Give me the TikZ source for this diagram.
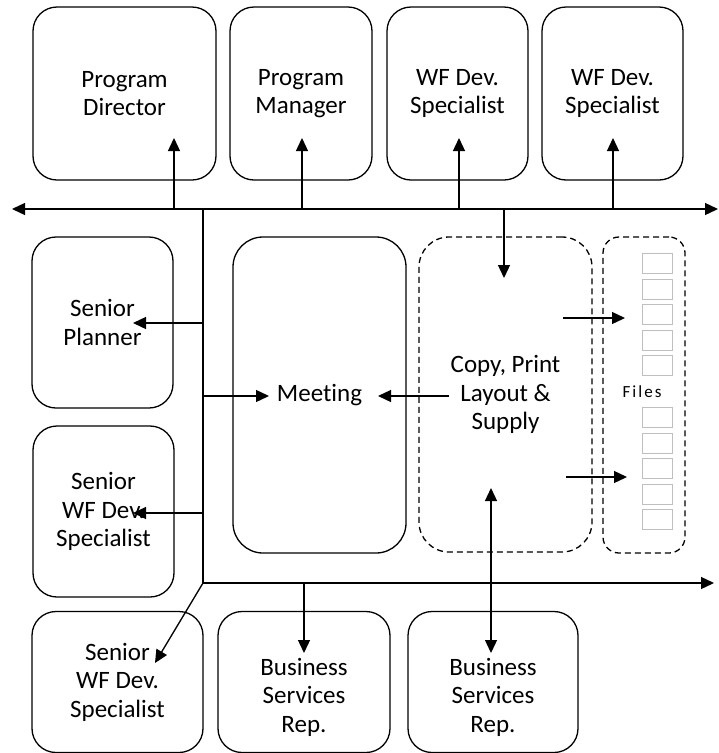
\documentclass[tikz,border=0pt]{standalone}
\usepackage{fontspec}
\setmainfont{Carlito}[Ligatures={NoCommon}]
\usetikzlibrary{arrows.meta}
\tikzset{
  box/.style={draw, line width=1.3pt, rounded corners=24pt, inner sep=0pt, outer sep=0pt,
    align=center, font=\fontsize{25}{28.5}\selectfont},
  dbox/.style={box, dashed, dash pattern=on 6pt off 4pt},
  lbl/.style={align=center, font=\fontsize{25}{28.5}\selectfont, inner sep=0pt},
  conn/.style={line width=1.3pt, -{Triangle[length=13pt,width=12pt]}},
  dconn/.style={line width=1.3pt, {Triangle[length=13pt,width=12pt]}-{Triangle[length=13pt,width=12pt]}},
  bus/.style={line width=1.5pt},
  filebox/.style={draw=black!25, line width=1.2pt, minimum width=30pt, minimum height=20pt,
    inner sep=0pt, anchor=north west}
}
\begin{document}
\begin{tikzpicture}[x=1pt,y=-1pt]
\useasboundingbox (0,0) rectangle (719,753);

% top row
\node[box, minimum width=183pt, minimum height=173pt] (pd)  at (124.5,93.5) {Program\\Director};
\node[box, minimum width=142pt, minimum height=173pt] (pm)  at (301,93.5)   {Program\\Manager};
\node[box, minimum width=141pt, minimum height=173pt] (wf1) at (457.5,93.5) {WF Dev.\\Specialist};
\node[box, minimum width=141pt, minimum height=173pt] (wf2) at (612.5,93.5) {WF Dev.\\Specialist};

% left column
\node[box, minimum width=141pt, minimum height=171pt] (sp)   at (102.5,322.5) {Senior\\Planner};
\node[box, minimum width=141pt, minimum height=171pt] (swf1) at (103.5,511.5) {Senior\\WF Dev.\\Specialist};

% middle
\node[box, rounded corners=30pt, minimum width=173pt, minimum height=316pt] (mt) at (319.5,395) {Meeting};
\node[dbox, rounded corners=30pt, minimum width=173pt, minimum height=315pt] (cp) at (505.5,394.5) {Copy, Print\\Layout \&\\Supply};
\node[dbox, rounded corners=16pt, minimum width=82pt, minimum height=316pt] (fl) at (644,395) {};

% file slots
\foreach \i/\y in {1/253,2/278.5,3/304,4/329.5,5/355,6/407,7/432.5,8/458,9/483.5,10/509}
  \node[filebox] (f\i) at (642,\y) {};
\node[inner sep=0pt, font=\fontsize{17}{20}\selectfont\addfontfeatures{LetterSpace=12}] (ft) at (642,392) {Files};

% bottom row
\node[box, minimum width=171pt, minimum height=141pt] (swf2) at (117.5,682) {Senior\\WF Dev.\\Specialist};
\node[box, minimum width=172pt, minimum height=141pt] (bs1) at (304,682) {};
\node[lbl] (bs1t) at (304,697) {Business\\Services\\Rep.};
\node[box, minimum width=170pt, minimum height=141pt] (bs2) at (493,682) {};
\node[lbl] (bs2t) at (493,697) {Business\\Services\\Rep.};

% bus lines
\coordinate (busL) at (12,209);
\coordinate (busR) at (718,209);
\coordinate (junc) at (203,209);
\coordinate (corner) at (203,583);
\coordinate (busB) at (714,583);
\draw[conn] (junc) -- (busL);
\draw[conn] (junc) -- (busR);
\draw[bus] (junc) -- (corner);
\draw[conn] (corner) -- (busB);

% arrows up into the top row
\coordinate (pdin) at (174,138);
\coordinate (pmin) at (302,138);
\coordinate (wf1in) at (459,138);
\coordinate (wf2in) at (613,138);
\draw[conn] (pdin |- busL) -- (pdin);
\draw[conn] (pmin |- busL) -- (pmin);
\draw[conn] (wf1in |- busL) -- (wf1in);
\draw[conn] (wf2in |- busL) -- (wf2in);

% arrow down into copy area
\coordinate (cpin) at (504,278);
\draw[conn] (cpin |- busL) -- (cpin);

% left column arrows
\coordinate (spin) at (133,323);
\coordinate (swf1in) at (133,513);
\draw[conn] (junc |- spin) -- (spin);
\draw[conn] (junc |- swf1in) -- (swf1in);

% meeting arrows
\coordinate (mtl) at (269,396);
\coordinate (mtr) at (378,396);
\coordinate (cpout) at (449,396);
\draw[conn] (junc |- mtl) -- (mtl);
\draw[conn] (cpout) -- (mtr);

% arrows to the files
\coordinate (fa1s) at (563,318);
\coordinate (fa1e) at (625,318);
\coordinate (fa2s) at (566,477);
\coordinate (fa2e) at (627,477);
\draw[conn] (fa1s) -- (fa1e);
\draw[conn] (fa2s) -- (fa2e);

% bottom arrows
\coordinate (swf2in) at (155,663);
\coordinate (bs1in) at (304,653);
\coordinate (bs2in) at (491,653);
\coordinate (cpup) at (491,488);
\draw[conn] (corner) -- (swf2in);
\draw[conn] (bs1in |- busB) -- (bs1in);
\draw[dconn] (cpup) -- (bs2in);
\end{tikzpicture}
\end{document}
